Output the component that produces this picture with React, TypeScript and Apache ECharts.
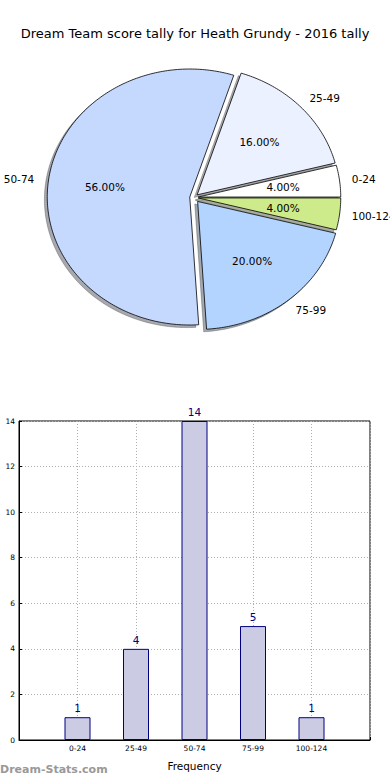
import { useEffect, useRef } from 'react';
import * as echarts from 'echarts';

const TITLE = 'Dream Team score tally for Heath Grundy - 2016 tally';

const sliceLabels = ['0-24', '25-49', '50-74', '75-99', '100-124'];
const sliceCounts = [1, 4, 14, 5, 1];
const sliceColors = ['#ffffff', '#ebf1ff', '#c5d9ff', '#b3d4ff', '#cdeb8b'];
const sliceExplode = [0.03, 0.03, 0.03, 0.04, 0.03];

const barCategories = ['0-24', '25-49', '50-74', '75-99', '100-124'];
const barCounts = [1, 4, 14, 5, 1];
const yMax = 14;
const yInterval = 2;
const xAxisName = 'Frequency';
const yAxisName = 'Score Intervals';
const WATERMARK = 'Dream-Stats.com';

const PIE = { cx: 194, cy: 197.5, rx: 142.5, ry: 128 };
const FONT = '"DejaVu Sans", sans-serif';

const total = sliceCounts.reduce((a, b) => a + b, 0);
const rad = (d: number) => (d * Math.PI) / 180;

function hexToRgb(h: string) {
  const n = parseInt(h.slice(1), 16);
  return [(n >> 16) & 255, (n >> 8) & 255, n & 255];
}

function renderSlice(params: any, api: any) {
  const i = params.dataIndex;
  const v = api.value(0);
  let before = 0;
  for (let k = 0; k < i; k++) before += sliceCounts[k];
  const t1 = (before / total) * 360;
  const t2 = ((before + v) / total) * 360;
  const tm = (t1 + t2) / 2;
  const e = sliceExplode[i];
  const ox = PIE.cx + e * PIE.rx * Math.cos(rad(tm));
  const oy = PIE.cy - e * PIE.ry * Math.sin(rad(tm));
  const pts: number[][] = [[ox, oy]];
  const n = Math.max(4, Math.ceil(t2 - t1));
  for (let k = 0; k <= n; k++) {
    const a = rad(t1 + ((t2 - t1) * k) / n);
    pts.push([ox + PIE.rx * Math.cos(a), oy - PIE.ry * Math.sin(a)]);
  }
  const sdx = -0.02 * PIE.rx;
  const sdy = 0.02 * PIE.ry;
  const shadowPts = pts.map(([x, y]) => [x + sdx, y + sdy]);
  const [r, g, b] = hexToRgb(sliceColors[i]);
  const sc = `rgba(${Math.round(r * 0.3)},${Math.round(g * 0.3)},${Math.round(b * 0.3)},0.45)`;
  const c = Math.cos(rad(tm));
  const s = Math.sin(rad(tm));
  const lx = ox + 1.1 * PIE.rx * c;
  const ly = oy - 1.1 * PIE.ry * s;
  const px = ox + 0.6 * PIE.rx * c;
  const py = oy - 0.6 * PIE.ry * s;
  const pct = ((v / total) * 100).toFixed(2) + '%';
  return {
    type: 'group',
    children: [
      {
        type: 'polygon',
        shape: { points: shadowPts },
        style: { fill: sc, stroke: sc, lineWidth: 0.8 },
        z2: 1,
      },
      {
        type: 'polygon',
        shape: { points: pts },
        style: { fill: sliceColors[i], stroke: '#000000', lineWidth: 0.8 },
        z2: 10,
      },
      {
        type: 'text',
        x: lx - (c >= 0 ? 2 : 0),
        y: ly,
        style: {
          text: sliceLabels[i],
          fill: '#000000',
          fontSize: 10.5,
          fontFamily: FONT,
          align: c >= 0 ? 'left' : 'right',
          verticalAlign: 'middle',
        },
        z2: 20,
      },
      {
        type: 'text',
        x: px,
        y: py,
        style: {
          text: pct,
          fill: '#000000',
          fontSize: 10.5,
          fontFamily: FONT,
          align: 'center',
          verticalAlign: 'middle',
        },
        z2: 20,
      },
    ],
  };
}

export default function App() {
  const ref = useRef<HTMLDivElement>(null);
  useEffect(() => {
    if (!ref.current) return;
    const chart = echarts.init(ref.current, undefined, { renderer: 'svg' });
    const xCats = ['', ...barCategories, ''];
    const barData: any[] = ['-', ...barCounts, '-'];
    chart.setOption({
      animation: false,
      backgroundColor: '#ffffff',
      title: {
        text: TITLE,
        left: 'center',
        top: 22,
        textStyle: { fontFamily: FONT, fontSize: 13, fontWeight: 'normal', color: '#000000' },
      },
      graphic: [
        {
          type: 'text',
          left: 0,
          top: 764,
          style: {
            text: WATERMARK,
            fill: '#999999',
            fontSize: 11,
            fontWeight: 'bold',
            fontFamily: FONT,
          },
        },
      ],
      grid: {
        left: 19,
        top: 421,
        width: 351,
        height: 319,
        show: true,
        containLabel: false,
        outerBoundsMode: 'none',
        borderColor: '#000000',
        borderWidth: 1,
        backgroundColor: 'transparent',
      },
      xAxis: {
        type: 'category',
        data: xCats,
        boundaryGap: false,
        name: xAxisName,
        nameLocation: 'middle',
        nameGap: 20,
        nameTextStyle: { fontFamily: FONT, fontSize: 10.5, color: '#000000' },
        axisLine: { lineStyle: { color: '#000000', width: 1 } },
        axisTick: { show: true, inside: true, length: 3, lineStyle: { color: '#000000' } },
        axisLabel: { fontFamily: FONT, fontSize: 7.5, color: '#000000', margin: 4 },
        splitLine: { show: true, lineStyle: { color: '#b0b0b0', type: [1, 2], width: 1 } },
      },
      yAxis: {
        type: 'value',
        min: 0,
        max: yMax,
        interval: yInterval,
        name: yAxisName,
        nameLocation: 'middle',
        nameGap: 23,
        nameTextStyle: { fontFamily: FONT, fontSize: 10.5, color: '#000000' },
        axisLine: { show: true, lineStyle: { color: '#000000', width: 1 } },
        axisTick: { show: true, inside: true, length: 3, lineStyle: { color: '#000000' } },
        axisLabel: { fontFamily: FONT, fontSize: 7.5, color: '#000000', margin: 4 },
        splitLine: { show: true, lineStyle: { color: '#b0b0b0', type: [1, 2], width: 1 } },
      },
      series: [
        {
          type: 'custom',
          coordinateSystem: 'none',
          data: sliceCounts,
          renderItem: renderSlice,
          silent: true,
        },
        {
          type: 'bar',
          data: barData,
          barWidth: 26,
          itemStyle: { color: '#cbcce4', borderColor: '#000080', borderWidth: 1 },
          label: {
            show: true,
            position: 'top',
            distance: 3.5,
            color: '#000080',
            fontSize: 10.5,
            fontFamily: FONT,
          },
        },
      ],
    });
    return () => chart.dispose();
  }, []);
  return (
    <div
      ref={ref}
      style={{ position: 'absolute', left: 0, top: 0, width: 390, height: 780 }}
    />
  );
}
